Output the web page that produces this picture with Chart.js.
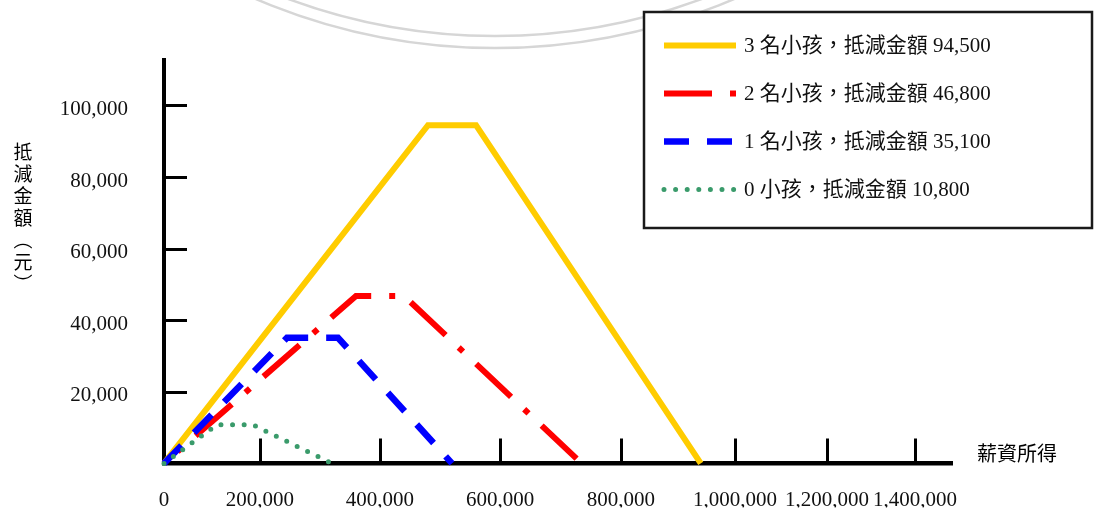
<!DOCTYPE html>
<html lang="zh-Hant">
<head>
<meta charset="utf-8">
<title>抵減金額與薪資所得</title>
<script src="https://cdn.jsdelivr.net/npm/chart.js@4.4.1/dist/chart.umd.min.js"></script>
<style>
  html, body { margin: 0; padding: 0; background: #fff; }
  canvas { display: block; }
</style>
</head>
<body>
<canvas id="chart" width="1094" height="512"></canvas>
<script>
// ---------- data ----------
const seriesNames = ['3 名小孩', '2 名小孩', '1 名小孩', '0 小孩'];
const maxCredit   = [94500, 46800, 35100, 10800];      // plateau of each credit schedule (元)
const phaseInEnd  = [480000, 360000, 245000, 110000];  // income where the plateau begins
const plateauEnd  = [560000, 440000, 330000, 185000];  // income where the phase-out begins
const phaseOutEnd = [940000, 735000, 520000, 320000];  // income where the credit falls to 0

const xTickValues = [0, 200000, 400000, 600000, 800000, 1000000, 1200000, 1400000];
const yTickValues = [20000, 40000, 60000, 80000, 100000];
const xAxisTitle = '薪資所得';
const yAxisTitle = '抵減金額（元）';

// ---------- styles ----------
const lineColors = ['#ffcc00', '#ff0000', '#0000ff', '#3a9b6b'];
const lineDashes = [[], [48, 18, 6, 18], [25, 18], [0, 11.6]];
const dashOffsets = [0, 48, 0, 0];
const lineWidths = [6, 6, 6.5, 5];
const lineCaps = ['butt', 'butt', 'butt', 'round'];
const drawOrder = [4, 3, 2, 1];   // smaller number is painted on top

const NUM_FONT = "'Liberation Serif', 'Noto Sans CJK TC', serif";
const CJK_FONT = "'Noto Sans CJK TC', 'Liberation Serif', sans-serif";

// The income axis is drawn with uneven steps: each 200,000 step has its own
// share of the axis length (the last entry is the axis end).
const X_MAX = 1500000;
const xAnchorValues = [...xTickValues, X_MAX];
const xAnchorFractions = [0, 0.1218, 0.2741, 0.4264, 0.5799, 0.7246, 0.8414, 0.9530, 1];

class SegmentedLinearScale extends Chart.LinearScale {
  toDecimal(value) {
    const v = xAnchorValues, f = xAnchorFractions;
    let i = 1;
    while (i < v.length - 1 && value > v[i]) i++;
    const t = (value - v[i - 1]) / (v[i] - v[i - 1]);
    return f[i - 1] + t * (f[i] - f[i - 1]);
  }
  fromDecimal(dec) {
    const v = xAnchorValues, f = xAnchorFractions;
    let i = 1;
    while (i < f.length - 1 && dec > f[i]) i++;
    const t = (dec - f[i - 1]) / (f[i] - f[i - 1]);
    return v[i - 1] + t * (v[i] - v[i - 1]);
  }
  getPixelForValue(value) {
    if (value === null || value === undefined || isNaN(value)) return NaN;
    return this.getPixelForDecimal(this.toDecimal(+value));
  }
  getValueForPixel(pixel) {
    return this.fromDecimal(this.getDecimalForPixel(pixel));
  }
}
SegmentedLinearScale.id = 'segmentedLinear';
SegmentedLinearScale.defaults = Chart.LinearScale.defaults;
Chart.register(SegmentedLinearScale);

const fmt = v => Number(v).toLocaleString('en-US');

const datasets = seriesNames.map((name, i) => ({
  label: `${name}，抵減金額 ${fmt(maxCredit[i])}`,
  data: [
    { x: 0, y: 0 },
    { x: phaseInEnd[i], y: maxCredit[i] },
    { x: plateauEnd[i], y: maxCredit[i] },
    { x: phaseOutEnd[i], y: 0 }
  ],
  borderColor: lineColors[i],
  backgroundColor: lineColors[i],
  borderWidth: lineWidths[i],
  borderDash: lineDashes[i],
  borderDashOffset: dashOffsets[i],
  borderCapStyle: lineCaps[i],
  borderJoinStyle: 'miter',
  pointRadius: 0,
  tension: 0,
  fill: false,
  clip: false,
  order: drawOrder[i]
}));

// Faint seal ring in the page background, inward tick marks,
// axis titles and the boxed legend.
const decorations = {
  id: 'decorations',
  beforeDraw(chart) {
    const { ctx } = chart;
    ctx.save();
    ctx.strokeStyle = '#d6d6d6';
    ctx.lineWidth = 2.5;
    [608, 596].forEach(r => {
      ctx.beginPath();
      ctx.arc(495, -560, r, 0, Math.PI);
      ctx.stroke();
    });
    ctx.restore();
  },
  beforeDatasetsDraw(chart) {
    const { ctx, chartArea } = chart;
    const xs = chart.scales.x, ys = chart.scales.y;
    ctx.save();
    ctx.strokeStyle = '#000';
    ctx.lineWidth = 3;
    ctx.beginPath();
    xs.ticks.forEach(t => {
      if (t.value === 0) return;
      const px = Math.round(xs.getPixelForValue(t.value)) + 0.5;
      ctx.moveTo(px, chartArea.bottom);
      ctx.lineTo(px, chartArea.bottom - 25);
    });
    ys.ticks.forEach(t => {
      const py = Math.round(ys.getPixelForValue(t.value)) + 0.5;
      ctx.moveTo(chartArea.left, py);
      ctx.lineTo(chartArea.left + 23, py);
    });
    ctx.stroke();
    ctx.restore();
  },
  afterDraw(chart) {
    const { ctx } = chart;
    ctx.save();
    ctx.fillStyle = '#000';

    // income axis title, right of the axis end
    ctx.font = `20px ${CJK_FONT}`;
    ctx.textAlign = 'left';
    ctx.textBaseline = 'middle';
    ctx.fillText(xAxisTitle, 977, 453);

    // credit axis title, set vertically with upright characters
    const vertical = { '（': '\uFE35', '）': '\uFE36', '(': '\uFE35', ')': '\uFE36' };
    ctx.font = `19px ${CJK_FONT}`;
    ctx.textAlign = 'center';
    [...yAxisTitle].forEach((ch, k) => {
      ctx.fillText(vertical[ch] || ch, 23, 152 + k * 22);
    });

    // legend box
    const bx = 644, by = 12, bw = 448, bh = 216;
    ctx.fillStyle = '#fff';
    ctx.fillRect(bx, by, bw, bh);
    ctx.strokeStyle = '#1a1a1a';
    ctx.lineWidth = 2.5;
    ctx.strokeRect(bx, by, bw, bh);

    chart.data.datasets.forEach((ds, i) => {
      const cy = 45.5 + i * 48;
      ctx.save();
      ctx.strokeStyle = ds.borderColor;
      ctx.lineWidth = ds.borderWidth;
      ctx.lineCap = ds.borderCapStyle;
      ctx.setLineDash(ds.borderDash);
      ctx.beginPath();
      ctx.moveTo(664, cy);
      ctx.lineTo(736, cy);
      ctx.stroke();
      ctx.restore();

      ctx.fillStyle = '#111';
      ctx.font = `21px ${NUM_FONT}`;
      ctx.textAlign = 'left';
      ctx.textBaseline = 'middle';
      ctx.fillText(ds.label, 744, cy + 1);
    });
    ctx.restore();
  }
};

new Chart(document.getElementById('chart'), {
  type: 'line',
  data: { datasets },
  options: {
    responsive: false,
    animation: false,
    events: [],
    layout: { padding: { top: 60, right: 142, bottom: 0, left: 0 } },
    plugins: { legend: { display: false }, tooltip: { enabled: false } },
    scales: {
      x: {
        type: 'segmentedLinear',
        min: 0,
        max: X_MAX,
        afterBuildTicks: s => { s.ticks = xTickValues.map(v => ({ value: v })); },
        afterFit: s => { s.height = 44; },
        grid: { display: true, drawOnChartArea: false, drawTicks: false },
        border: { display: true, color: '#000', width: 4.5 },
        ticks: {
          autoSkip: false,
          maxRotation: 0,
          padding: 24,
          color: '#111',
          font: { family: NUM_FONT, size: 21 },
          callback: v => fmt(v)
        }
      },
      y: {
        type: 'linear',
        min: 0,
        max: 112700,
        afterBuildTicks: s => { s.ticks = yTickValues.map(v => ({ value: v })); },
        afterFit: s => { s.width = 164; },
        grid: { display: true, drawOnChartArea: false, drawTicks: false },
        border: { display: true, color: '#000', width: 4 },
        ticks: {
          padding: 36,
          labelOffset: 4,
          color: '#111',
          font: { family: NUM_FONT, size: 21 },
          callback: v => fmt(v)
        }
      }
    }
  },
  plugins: [decorations]
});
</script>
</body>
</html>
